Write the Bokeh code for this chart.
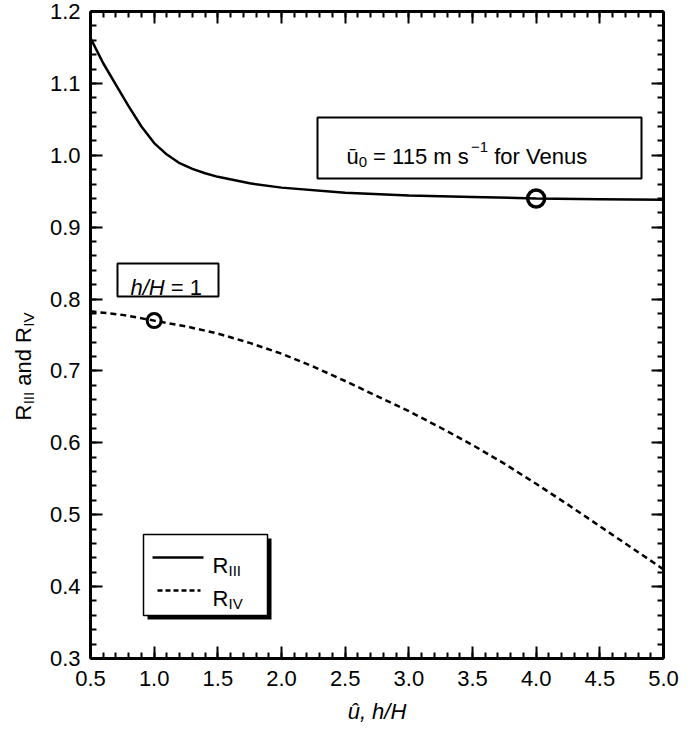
import numpy as np
from bokeh.plotting import figure
from bokeh.layouts import row
from bokeh.models import Range1d, LinearAxis, FixedTicker, NumeralTickFormatter
from bokeh.embed import file_html
from bokeh.resources import INLINE
from bokeh.core.properties import value

# ---- data ----
r3_x = [0.5, 0.6, 0.7, 0.8, 0.9, 1.0, 1.1, 1.2, 1.3, 1.4, 1.5, 1.75, 2.0, 2.5, 3.0, 3.5, 4.0, 4.5, 5.0]
r3_y = [1.163, 1.128, 1.098, 1.068, 1.040, 1.017, 1.001, 0.989, 0.981, 0.975, 0.970, 0.961, 0.955,
        0.948, 0.944, 0.942, 0.940, 0.939, 0.938]
r4_x = [0.5, 0.75, 1.0, 1.25, 1.5, 1.75, 2.0, 2.25, 2.5, 2.75, 3.0, 3.25, 3.5, 3.75, 4.0, 4.25, 4.5, 4.75, 5.0]
r4_y = [0.783, 0.778, 0.770, 0.762, 0.752, 0.739, 0.724, 0.706, 0.686, 0.665, 0.644, 0.621, 0.597,
        0.571, 0.543, 0.514, 0.484, 0.454, 0.424]
mark3_x = [4.0]
mark3_y = [0.940]
mark4_x = [1.0]
mark4_y = [0.770]
x_ticks = [0.5, 1.0, 1.5, 2.0, 2.5, 3.0, 3.5, 4.0, 4.5, 5.0]
y_ticks = [0.3, 0.4, 0.5, 0.6, 0.7, 0.8, 0.9, 1.0, 1.1, 1.2]
x_title = "\u00fb, h/H"
legend_names = ["III", "IV"]

x_minor = [round(v, 2) for v in np.arange(0.5, 5.0001, 0.1)]
y_minor = [round(v, 3) for v in np.arange(0.3, 1.2001, 0.02)]

FONT = "Liberation Sans"
FS = "22px"
SUB = "15px"
TW = 40                               # width of the y-title strip
L, T, FW, FH = 90, 11, 573, 647       # frame position in page pixels
H = 729
X0, X1, Y0, Y1 = 0.5, 5.0, 0.3, 1.2


def sx(px):
    return X0 + (px - L) / FW * (X1 - X0)


def sy(py):
    return Y1 - (py - T) / FH * (Y1 - Y0)


p = figure(frame_width=FW, frame_height=FH,
           x_range=Range1d(X0, X1), y_range=Range1d(Y0, Y1),
           output_backend="svg", toolbar_location=None,
           min_border_left=L - TW, min_border_top=T,
           min_border_right=20, min_border_bottom=H - T - FH)
p.outline_line_color = None
p.xgrid.visible = False
p.ygrid.visible = False
p.background_fill_color = "white"
p.border_fill_color = "white"


def style_axis(ax, labels=True):
    ax.axis_line_width = 3
    ax.axis_line_color = "black"
    ax.major_tick_in = 12
    ax.major_tick_out = 0
    ax.minor_tick_in = 6
    ax.minor_tick_out = 0
    ax.major_tick_line_width = 2
    ax.minor_tick_line_width = 2
    ax.major_tick_line_color = "black"
    ax.minor_tick_line_color = "black"
    ax.major_label_text_font = FONT
    ax.major_label_text_font_size = "22px"
    ax.major_label_text_color = "black"
    if not labels:
        ax.major_label_text_font_size = "1px"
        ax.major_label_text_color = None
        ax.major_label_standoff = 0


p.xaxis.ticker = FixedTicker(ticks=x_ticks, minor_ticks=x_minor)
p.yaxis.ticker = FixedTicker(ticks=y_ticks, minor_ticks=y_minor)
p.xaxis.formatter = NumeralTickFormatter(format="0.0")
p.yaxis.formatter = NumeralTickFormatter(format="0.0")
style_axis(p.xaxis[0])
style_axis(p.yaxis[0])
p.xaxis.major_label_standoff = 12
p.yaxis.major_label_standoff = 10
p.xaxis.axis_label = x_title
p.xaxis.axis_label_text_font = FONT
p.xaxis.axis_label_text_font_size = FS
p.xaxis.axis_label_text_font_style = "italic"
p.xaxis.axis_label_text_color = "black"
p.xaxis.axis_label_standoff = 10

top_ax = LinearAxis(ticker=FixedTicker(ticks=x_ticks, minor_ticks=x_minor))
style_axis(top_ax, labels=False)
p.add_layout(top_ax, "above")
right_ax = LinearAxis(ticker=FixedTicker(ticks=y_ticks, minor_ticks=y_minor))
style_axis(right_ax, labels=False)
p.add_layout(right_ax, "right")

# ---- curves ----
p.line(r3_x, r3_y, line_color="black", line_width=2.5)
p.line(r4_x, r4_y, line_color="black", line_width=2.5, line_dash="6 4")
p.scatter(mark3_x, mark3_y, marker="circle", size=17, fill_color=None, line_color="black", line_width=3.5)
p.scatter(mark4_x, mark4_y, marker="circle", size=14, fill_color=None, line_color="black", line_width=3)


def txt(px, py, s, size=FS, style="normal", align="left"):
    p.text(x=[sx(px)], y=[sy(py)], text=[s], text_font=value(FONT), text_font_size=size,
           text_font_style=style, text_color="black", text_align=align, text_baseline="alphabetic")


# ---- annotation box: u0 ----
p.quad(left=[sx(317)], right=[sx(641)], top=[sy(117)], bottom=[sy(178)],
       fill_color="white", line_color="black", line_width=2)
x0 = 346
txt(x0, 156, "\u016b")
txt(x0 + 12.2, 161, "0", size=SUB)
txt(x0 + 26.6, 156, "= 115 m s")
txt(x0 + 124.5, 146, "\u22121", size=SUB)
txt(x0 + 147.7, 156, "for Venus")

# ---- annotation box: h/H = 1 ----
p.quad(left=[sx(117)], right=[sx(218)], top=[sy(263)], bottom=[sy(296)],
       fill_color="white", line_color="black", line_width=2)
txt(130, 287, "h/H", style="italic")
txt(170.3, 287, "= 1")

# ---- legend ----
p.quad(left=[sx(147)], right=[sx(271)], top=[sy(538)], bottom=[sy(619)],
       fill_color="black", line_color=None)
p.quad(left=[sx(143)], right=[sx(267)], top=[sy(534)], bottom=[sy(615)],
       fill_color="white", line_color="black", line_width=1.5)
p.segment(x0=[sx(152)], y0=[sy(557)], x1=[sx(203)], y1=[sy(557)], line_color="black", line_width=2.5)
p.segment(x0=[sx(157)], y0=[sy(590)], x1=[sx(200)], y1=[sy(590)], line_color="black", line_width=2.5,
          line_dash="5 3")
txt(212, 565, "R")
txt(228, 570, legend_names[0], size=SUB)
txt(212, 598, "R")
txt(228, 603, legend_names[1], size=SUB)

# ---- y axis title strip (rotated text with subscripts) ----
yf = figure(frame_width=TW, frame_height=H, x_range=Range1d(0, TW), y_range=Range1d(0, H),
            x_axis_type=None, y_axis_type=None, output_backend="svg", toolbar_location=None,
            min_border_left=0, min_border_right=0, min_border_top=0, min_border_bottom=0)
yf.outline_line_color = None
yf.xgrid.visible = False
yf.ygrid.visible = False
yf.background_fill_color = "white"
yf.border_fill_color = "white"


def ylab(px, py, s, size=FS):
    yf.text(x=[px], y=[H - py], text=[s], angle=np.pi / 2, text_font=value(FONT),
            text_font_size=size, text_color="black", text_align="left", text_baseline="alphabetic")


ylab(23, 409, "R")
ylab(28, 392.8, "III", size=SUB)
ylab(23, 374.2, "and")
ylab(23, 331.4, "R")
ylab(28, 315.2, "IV", size=SUB)

layout = row(yf, p, spacing=0)
open("out.html", "w").write(file_html(layout, INLINE))
